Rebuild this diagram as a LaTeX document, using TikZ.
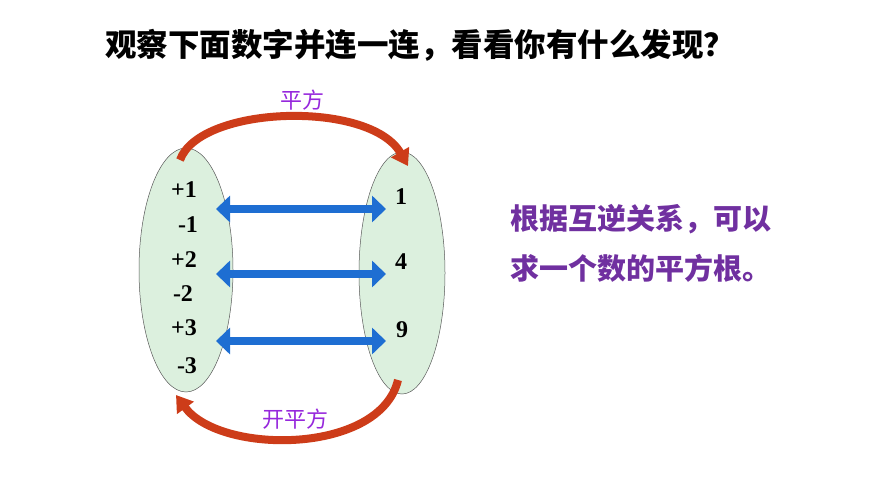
\documentclass[tikz,border=0pt]{standalone}
\usepackage{fontspec}
\setmainfont{Liberation Serif}
\newfontfamily\cjk{Noto Sans CJK SC}
\usetikzlibrary{arrows.meta}
\definecolor{ellfill}{RGB}{220,240,222}
\definecolor{arrblue}{RGB}{30,110,210}
\definecolor{arred}{RGB}{205,60,25}
\definecolor{purp}{RGB}{112,48,160}
\definecolor{labp}{RGB}{150,40,220}
\begin{document}
\begin{tikzpicture}[x=1pt,y=-1pt,
  ell/.style={draw=gray!70!black,line width=0.5pt,fill=ellfill},
  num/.style={font=\bfseries\fontsize{24}{24}\selectfont,inner sep=0},
  dbl/.style={arrblue,line width=8pt,{Triangle[length=14pt,width=26pt]}-{Triangle[length=14pt,width=26pt]}},
  redarr/.style={arred,line width=8pt,-{Triangle[length=16pt,width=20pt]}},
  lab/.style={labp,font=\cjk\fontsize{22}{22}\selectfont},
  txt/.style={font=\cjk\bfseries\fontsize{29}{29}\selectfont,anchor=west,inner sep=0}]
\useasboundingbox (0,0) rectangle (870,489);
\draw[ell] (186,270) ellipse [x radius=47,y radius=122];
\draw[ell] (402,273) ellipse [x radius=43,y radius=121];
\node[num] (p1) at (184,190) {+1};
\node[num] (m1) at (188,225) {-1};
\node[num] (p2) at (184,260) {+2};
\node[num] (m2) at (183,294) {-2};
\node[num] (p3) at (184,328) {+3};
\node[num] (m3) at (187,366) {-3};
\node[num] (r1) at (401,197) {1};
\node[num] (r4) at (401,262) {4};
\node[num] (r9) at (402,330) {9};
\coordinate (a1) at (216,209); \coordinate (b1) at (386,209);
\coordinate (a2) at (216,274); \coordinate (b2) at (386,274);
\coordinate (a3) at (216,341); \coordinate (b3) at (386,341);
\draw[dbl] (a1) -- (b1);
\draw[dbl] (a2) -- (b2);
\draw[dbl] (a3) -- (b3);
\coordinate (t1) at (180,160); \coordinate (t2) at (408,166);
\coordinate (u1) at (398,380); \coordinate (u2) at (176,395);
\draw[redarr] (t1) .. controls (200,105) and (370,100) .. (t2);
\draw[redarr] (u1) .. controls (380,455) and (220,455) .. (u2);
\node[lab] (sq) at (302,100) {平方};
\node[lab] (sqr) at (295,419) {开平方};
\node[font=\cjk\bfseries\fontsize{31.5}{31.5}\selectfont] (title) at (420,45) {观察下面数字并连一连，看看你有什么发现？};
\node[txt,purp] (l1) at (510,219) {根据互逆关系，可以};
\node[txt,purp] (l2) at (510,268) {求一个数的平方根。};
\end{tikzpicture}
\end{document}
